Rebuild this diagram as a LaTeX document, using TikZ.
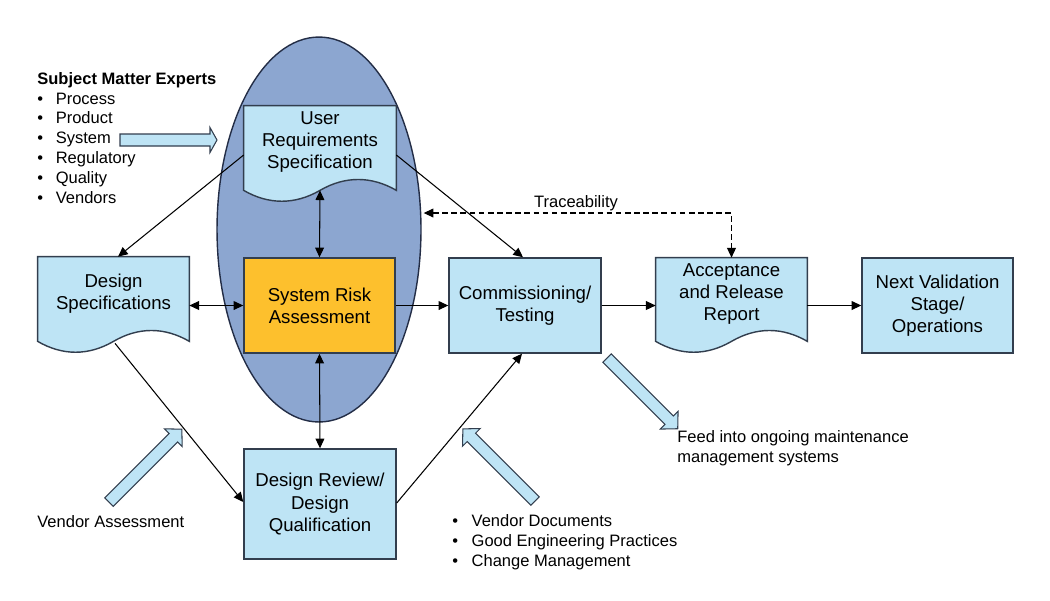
\documentclass[tikz,border=0pt]{standalone}
\usepackage{fontspec}
\setmainfont{Liberation Sans}
\usetikzlibrary{arrows.meta,calc,fit,shapes.geometric}
\definecolor{lb}{RGB}{190,228,245}
\definecolor{ellf}{RGB}{140,166,208}
\definecolor{ellb}{RGB}{35,45,70}
\definecolor{org}{RGB}{253,192,45}
\definecolor{bord}{RGB}{50,62,78}
\newcommand\mynodefont{\fontsize{10.6}{12.7}\selectfont}
\newcommand\mylistfont{\fontsize{9.4}{11.35}\selectfont}
\newcommand\myblockarrow[5]{%
  \draw[blockst, shift={(#1,#2)}, rotate=#3] (0,-6) -- ({#4-#5},-6) -- ({#4-#5},-12.5) -- (#4,0) -- ({#4-#5},12.5) -- ({#4-#5},6) -- (0,6) -- cycle;}
\begin{document}
\begin{tikzpicture}[x=0.02cm,y=-0.02cm,
  boxst/.style={draw=bord, fill=lb, line width=0.8pt, inner sep=0, align=center, font=\mynodefont},
  docst/.style={draw=bord, fill=lb, line width=0.8pt},
  docfit/.style={inner sep=0},
  txt/.style={inner sep=0, align=center, font=\mynodefont},
  ltxt/.style={inner sep=0, align=left, font=\mylistfont},
  conn/.style={line width=0.6pt, draw=black},
  tip/.style={-{Triangle[length=5.5pt,width=5pt]}},
  dtip/.style={{Triangle[length=5.5pt,width=5pt]}-{Triangle[length=5.5pt,width=5pt]}},
  blockst/.style={draw=bord, fill=lb, line width=0.6pt, line join=miter}
]
\useasboundingbox (0,0) rectangle (1050,600);

% ellipse
\node[ellipse, draw=ellb, fill=ellf, line width=0.8pt, minimum width=4.08cm, minimum height=7.7cm, inner sep=0] (ell) at (319,229.5) {};

% URS document
\node[docfit, fit={(244,106) (396,190)}] (urs) {};
\draw[docst] (urs.north west) -- (urs.north east) -- (urs.south east)
  .. controls ($(urs.south east)+(-25,-14.5)$) and ($(urs.south)+(25,-14.5)$) .. (urs.south)
  .. controls ($(urs.south)+(-25,14.5)$) and ($(urs.south west)+(25,14.5)$) .. (urs.south west) -- cycle;
\node[txt] (urst) at ($(urs.center)+(0,-6)$) {User\\Requirements\\Specification};

% Design Specifications document
\node[docfit, fit={(38,257) (189,341)}] (ds) {};
\draw[docst] (ds.north west) -- (ds.north east) -- (ds.south east)
  .. controls ($(ds.south east)+(-25,-14.5)$) and ($(ds.south)+(25,-14.5)$) .. (ds.south)
  .. controls ($(ds.south)+(-25,14.5)$) and ($(ds.south west)+(25,14.5)$) .. (ds.south west) -- cycle;
\node[txt] (dst) at ($(ds.center)+(0,-5)$) {Design\\Specifications};

% Acceptance document
\node[docfit, fit={(656,258) (807,341)}] (acc) {};
\draw[docst] (acc.north west) -- (acc.north east) -- (acc.south east)
  .. controls ($(acc.south east)+(-25,-14.5)$) and ($(acc.south)+(25,-14.5)$) .. (acc.south)
  .. controls ($(acc.south)+(-25,14.5)$) and ($(acc.south west)+(25,14.5)$) .. (acc.south west) -- cycle;
\node[txt] (acct) at ($(acc.center)+(0,-5.5)$) {Acceptance\\and Release\\Report};

% boxes
\node[boxst, fill=org, fit={(244,258) (395,353)}] (sra) {};
\node[txt] (srat) at (sra.center) {System Risk\\Assessment};
\node[boxst, fit={(449,258) (601,353)}] (ct) {};
\node[txt] (ctt) at (ct.center) {Commissioning/\\Testing};
\node[boxst, fit={(862,258) (1013,353)}] (nx) {};
\node[txt] (nxt) at (nx.center) {Next Validation\\Stage/\\Operations};
\node[boxst, fit={(244,449) (396,559)}] (dr) {};
\node[txt] (drt) at (dr.center) {Design Review/\\Design\\Qualification};

% connectors
\draw[conn, tip] ($(urs.west)+(0,7)$) -- ($(ds.north)+(4.5,0)$);
\draw[conn, tip] ($(urs.east)+(0,7)$) -- ($(ct.north)+(-2,0)$);
\draw[conn, dtip] (urs.south) -- (sra.north);
\draw[conn, dtip] (sra.south) -- (dr.north);
\draw[conn, dtip] (sra.west -| ds.east) -- (sra.west);
\draw[conn, tip] (sra.east) -- (ct.west);
\draw[conn, tip] (ct.east) -- (ct.east -| acc.west);
\draw[conn, tip] (nx.west -| acc.east) -- (nx.west);
\draw[conn, tip] ($(ds.south)+(1.5,2)$) -- ($(dr.west)+(0,-2)$);
\draw[conn, tip] ($(dr.east)+(0,-1)$) -- ($(ct.south)+(-3,0)$);
\draw[conn, dtip, dash pattern=on 3.2pt off 2pt] ($(ell.east)+(2,-16.5)$) -| (acc.north);
\node[ltxt] (trl) at (576,203) {Traceability};

% block arrows
\myblockarrow{120}{140}{0}{97}{7}
\myblockarrow{109}{502}{45}{103}{12}
\myblockarrow{535}{501}{135}{102}{12}
\myblockarrow{607}{358}{-45}{100}{12}

% texts
\node[ltxt, anchor=west] (sme) at (37,138) {\textbf{Subject Matter Experts}\\
\makebox[10.5pt][l]{•}Process\\
\makebox[10.5pt][l]{•}Product\\
\makebox[10.5pt][l]{•}System\\
\makebox[10.5pt][l]{•}Regulatory\\
\makebox[10.5pt][l]{•}Quality\\
\makebox[10.5pt][l]{•}Vendors};
\node[ltxt, anchor=west] (va) at (37,522) {Vendor Assessment};
\node[ltxt, anchor=west] (feed) at (677,448) {Feed into ongoing maintenance\\management systems};
\node[ltxt, anchor=west] (vd) at (452,542) {\makebox[11pt][l]{•}Vendor Documents\\
\makebox[11pt][l]{•}Good Engineering Practices\\
\makebox[11pt][l]{•}Change Management};
\end{tikzpicture}
\end{document}
